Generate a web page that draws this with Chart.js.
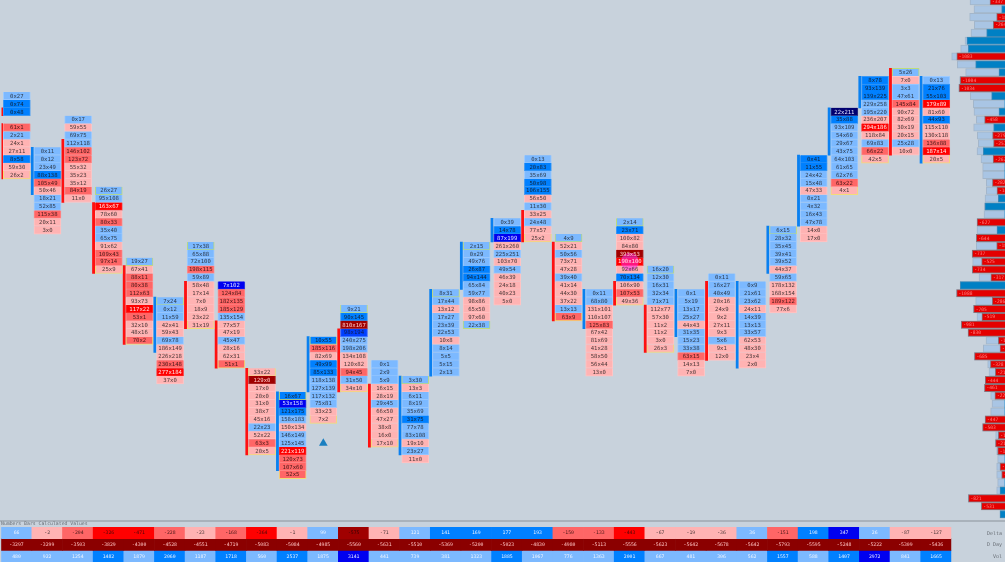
<!DOCTYPE html>
<html><head><meta charset="utf-8">
<script src="https://cdn.jsdelivr.net/npm/chart.js@4"></script>
<style>
html,body{margin:0;padding:0;background:#c8d2dc;width:1005px;height:562px;overflow:hidden}
canvas{position:absolute;display:block;filter:blur(.4px)}
#rule{position:absolute;left:0;top:520px;width:1005px;height:2px;background:#a9b2bb}
.t{position:absolute;font:5px "DejaVu Sans Mono",monospace;color:#6a7077;white-space:nowrap;line-height:6px;filter:blur(.3px)}
</style></head><body>
<canvas id="foot" width="1005" height="520" style="left:0;top:0;width:1005px;height:520px"></canvas>
<canvas id="prof" width="60" height="520" style="left:945px;top:0;width:60px;height:520px"></canvas>
<div id="rule"></div>
<canvas id="strip" width="1005" height="35" style="left:0;top:527px;width:1005px;height:35px"></canvas>
<div class="t" style="left:1px;top:521px;font-size:4.8px">Numbers Bars Calculated Values</div>
<div class="t" style="right:3px;top:530px">Delta</div>
<div class="t" style="right:3px;top:541px">D Day</div>
<div class="t" style="right:3px;top:553px">Vol</div>
<script>
// footprint: first row index of each candle, its "sell x buy" prints and a shade letter per print
const firstRow=[0,7,3,12,21,26,19,24,35,38,31,27,34,36,25,19,16,8,18,25,16,22,25,23,24,17,8,2,-2,-3,-2];
const prints=[
["0x27","0x74","0x48","","61x1","2x21","24x1","27x11","8x58","59x30","26x2"],
["0x11","0x12","23x49","88x138","105x49","50x46","18x21","52x85","115x38","20x11","3x0"],
["0x17","59x55","69x75","112x118","146x102","123x72","55x32","35x23","35x12","84x19","11x0"],
["26x27","95x108","163x67","78x60","80x33","35x40","65x75","91x62","109x43","97x14","25x9"],
["19x27","67x41","88x11","80x38","112x63","93x73","117x22","53x1","32x10","48x16","70x2"],
["7x24","0x12","11x59","42x41","59x43","69x78","186x149","226x218","230x148","277x184","37x0"],
["17x38","65x88","72x100","198x115","59x89","58x48","17x14","7x0","18x9","23x22","31x19"],
["7x102","124x84","182x135","185x129","135x154","77x57","47x19","45x47","28x16","62x31","51x1"],
["33x22","129x0","17x0","20x0","31x0","38x7","45x16","22x23","52x22","63x3","20x5"],
["16x67","53x158","121x175","158x183","150x134","146x149","125x145","221x119","120x73","107x60","52x5"],
["10x55","185x116","82x69","49x99","85x133","118x138","127x139","117x132","75x81","33x23","7x2"],
["9x21","90x145","810x167","98x194","240x275","198x206","134x108","120x82","94x45","31x50","34x10"],
["0x1","2x9","5x9","16x15","28x19","29x45","66x50","47x27","38x8","16x0","17x10"],
["3x30","13x3","6x11","8x19","35x69","31x75","77x78","83x108","19x10","23x27","11x0"],
["8x31","17x44","13x12","17x27","23x39","22x53","10x8","8x14","5x5","5x15","2x13"],
["2x15","0x29","49x76","26x87","94x144","65x84","59x77","98x86","65x50","97x60","22x38"],
["0x39","14x78","87x199","261x260","225x251","103x70","49x54","46x39","24x18","40x23","5x0"],
["0x13","20x83","35x69","50x98","106x155","56x50","11x30","33x25","24x48","77x57","25x2"],
["4x9","52x21","50x56","73x71","47x28","39x40","41x14","44x30","37x22","13x13","63x9"],
["0x11","68x80","131x101","110x107","125x83","67x42","81x69","41x28","58x50","56x44","13x0"],
["2x14","23x71","100x82","84x80","393x53","190x100","92x66","70x134","106x90","107x53","49x36"],
["16x20","12x30","16x31","32x34","71x71","112x77","57x30","11x2","11x2","3x0","26x3"],
["0x1","5x19","13x17","25x27","44x43","31x35","15x23","33x38","63x15","14x13","7x0"],
["0x11","16x27","40x49","20x16","24x9","9x2","27x11","9x3","5x6","9x1","12x0"],
["0x9","21x61","23x62","24x11","14x39","13x13","33x57","62x53","48x30","23x4","2x0"],
["6x15","28x32","35x45","39x41","39x52","44x37","59x65","178x132","168x154","189x122","77x6"],
["0x41","11x55","24x42","15x48","47x33","0x21","4x32","16x43","47x78","14x0","17x0"],
["22x211","35x88","93x109","54x60","29x67","43x75","64x103","61x65","62x76","63x22","4x1"],
["8x78","93x139","139x225","229x258","195x220","236x207","294x186","118x84","69x83","66x22","42x5"],
["5x26","7x0","3x3","47x61","145x84","90x72","82x69","30x19","20x15","25x28","10x0"],
["0x13","21x76","55x103","179x89","81x60","44x93","115x110","130x118","136x88","187x14","20x5"]];
const shades=["bBB mbllBll","bbbBmlbbmll","blbbmmlllml","bbrlmbblmml","blmmmlrmllm","bbbllbllmrl","bbbmbllllll","Dmmmbllbllm",
"ldlllllblml","BDBblbbrmmm","BmlBBbbbbll","bBdCbbllmbl","bbbllblllll","blbbbBbblbl","bblbbblbbbb","bbbBBbblllb","bBDlblbllll",
"bBbBBlblbll","blbllblllbm","bbllmllllll","bBlldrlBlml","bbbbbllllll","bbbblbbbmll","bbblllllbll","bbblbbbllll",
"bbbbblbllml","BBbblbbbbll","NBbbbbbbbml","BBBbblrlbml","blbbmllllbl","bBBrlBllmrl"];
const topEdge="...gggg.yggg.ggg..g.gg...g...g.".split("");
const bottomEdge="y..yy.yyyyyyy..g.yy.yy.....yy.y".split("");
// candle body stripes beside each column: first and last row, and direction
const bodyColumn=[0,0,1,2,3,4,5,6,7,8,9,10,11,12,13,14,15,16,17,18,19,20,21,22,23,24,25,26,27,28,29,30];
const bodyFrom=[2,4,7,6,14,22,26,24,29,35,38,31,30,37,36,25,19,16,15,19,25,24,27,25,24,24,17,8,2,-2,-3,-2];
const bodyTo=[2,10,12,13,22,31,32,29,34,45,47,37,37,44,45,35,24,18,18,28,29,26,32,30,33,34,22,16,7,1,7,8];
const bodyDir="RRBRRRBRRRBBRRBBBBRRBRRBRBBBBBRB".split("");
// signal markers
const signalColumn=[10];const signalRow=[44];
const absorbColumn=[20];const absorbRow=[21];
// value area profile on the right edge
const profileRows=[-12,-11,-10,-9,-8,-7,-6,-5,-4,-3,-2,-1,0,1,2,3,4,5,6,7,8,9,10,11,12,13,14,15,16,17,18,19,20,21,22,23,24,25,26,27,28,29,30,31,32,33,34,35,36,37,38,39,40,41,42,43,44,45,46,47,48,49,50,51,52,53];
const profileVol=[786,697,794,689,764,899,996,1198,1071,884,1020,1040,779,712,697,644,704,622,599,629,539,502,502,419,419,449,464,472,629,629,644,644,740,727,736,584,1010,1090,659,710,629,981,830,427,487,690,389,360,444,461,322,292,322,449,503,210,215,187,165,187,187,165,187,824,531,112];
const profileDelta=[-337,75,-187,-264,412,854,824,-1083,659,135,-1004,-1034,300,0,135,-458,255,-279,-257,487,-267,0,0,-282,-180,150,449,0,-627,180,-644,-187,-737,-525,-734,-317,1004,-1088,-286,-705,-519,-981,-830,-150,-112,-685,-328,-217,-444,-461,-227,0,0,-447,-503,-150,-213,-165,0,-112,-75,0,112,-821,-531,112];
// bottom table
const deltaValues=[66,-2,-204,-326,-471,-228,-23,-168,-364,-1,99,-575,-71,121,141,169,177,193,-150,-133,-443,-67,-19,-36,36,-151,198,347,26,-87,-127];
const deltaShade="blmrrmlmrlbdlbBBBBmmrlllbmBDbll".split("");
const dayValues=[-3297,-3299,-3503,-3829,-4300,-4528,-4551,-4719,-5083,-5084,-4985,-5560,-5631,-5510,-5369,-5200,-5023,-4830,-4980,-5113,-5556,-5623,-5642,-5678,-5642,-5793,-5595,-5248,-5222,-5309,-5436];
const volValues=[480,922,1254,1482,1879,2060,1187,1718,560,2537,1875,3141,441,739,381,1323,1885,1067,776,1363,2001,667,481,306,562,1557,588,1407,2972,841,1665];
const volShade="bbbBbBbBbBbDbbbbBbbbBbbbbBbBDbB".split("");

const fills={b:'#7cb9ff',B:'#0080ff',C:'#0040ff',D:'#0000f0',N:'#000070',l:'#ffb3b3',m:'#ff6666',r:'#ff0000',d:'#a00000',k:'#8b0000'};
const edges={b:'#9ccaff',B:'#3a98f5',C:'#3060ff',D:'#3040e0',N:'#303080',l:'#ffc4c4',m:'#ff8a8a',r:'#ff3030',d:'#b03030',k:'#8b0000'};
const inks={b:'#2c3a4c',B:'#102238',C:'#101c48',D:'#d8e0ff',N:'#e0e4ff',l:'#4a3838',m:'#481818',r:'#ffe4e4',d:'#ffc8c8',k:'#ffb0b0'};
const outline={g:'#bddc7a',y:'#f2dc78'};
const font='5.6px "DejaVu Sans Mono",monospace';

const cells=[];
prints.forEach((col,i)=>{
  col.forEach((txt,j)=>{
    if(!txt)return;
    const k=firstRow[i]+j;
    let oc=null;
    if(j===0&&topEdge[i]!=='.')oc=outline[topEdge[i]];
    if(j===col.length-1&&bottomEdge[i]!=='.')oc=outline[bottomEdge[i]];
    cells.push({x:i,y:[k-.5,k+.5],txt,sh:shades[i][j],oc});
  });
});
const bodies=bodyColumn.map((c,i)=>({x:c-.496,y:[bodyFrom[i]-.5,bodyTo[i]+.5],d:bodyDir[i]}));

const rowMin=-96/7.89,rowMax=(520-96)/7.89;
const hidden={display:false};
new Chart(document.getElementById('foot'),{
  type:'bar',
  data:{datasets:[
    {label:'absorb',type:'bubble',order:0,data:absorbColumn.map((c,i)=>({x:c,y:absorbRow[i],r:9})),backgroundColor:'rgba(255,40,230,.55)',borderWidth:0},
    {label:'signal',type:'scatter',order:0,data:signalColumn.map((c,i)=>({x:c,y:signalRow[i]})),pointStyle:'triangle',pointRadius:5,backgroundColor:'#1a7fc0',borderWidth:0},
    {label:'cells',order:1,grouped:false,data:cells,barThickness:27,
      backgroundColor:c=>fills[c.raw.sh],
      borderColor:c=>c.raw.oc||edges[c.raw.sh],borderWidth:1},
    {label:'bodies',order:2,grouped:false,data:bodies,barThickness:2.2,
      backgroundColor:c=>c.raw.d==='R'?'#ff1010':'#0a80f0',borderWidth:0}
  ]},
  options:{animation:false,responsive:false,devicePixelRatio:1,
    layout:{autoPadding:false,padding:{left:1.5,right:53.35,top:0,bottom:0}},
    plugins:{legend:hidden,tooltip:{enabled:false},title:hidden},
    scales:{
      x:{type:'linear',offset:false,min:-.5,max:30.5,display:false},
      y:{type:'linear',min:rowMin,max:rowMax,reverse:true,display:false}}
  },
  plugins:[{id:'cellText',afterDraw(ch){
    const c=ch.ctx,xs=ch.scales.x,ys=ch.scales.y;
    c.save();c.font=font;c.textAlign='center';c.textBaseline='middle';
    cells.forEach(p=>{c.fillStyle=inks[p.sh];c.fillText(p.txt,xs.getPixelForValue(p.x),ys.getPixelForValue((p.y[0]+p.y[1])/2)+.3);});
    c.restore();
  }}]
});

const deltaW=profileRows.map((r,i)=>({x:Math.abs(profileDelta[i]),y:r,v:profileDelta[i]}));
new Chart(document.getElementById('prof'),{
  type:'bar',
  data:{datasets:[
    {order:1,grouped:false,data:profileRows.map((r,i)=>({x:profileVol[i],y:r})),barThickness:7.4,backgroundColor:'#a9c5e4',borderColor:'#a3b6ca',borderWidth:1},
    {order:0,grouped:false,data:deltaW,barThickness:7.4,backgroundColor:c=>c.raw.v<0?'#e40000':'#0080c4',borderColor:c=>c.raw.v<0?'#8a7078':'#3a88b8',borderWidth:c=>c.raw.v?1:0}
  ]},
  options:{animation:false,responsive:false,devicePixelRatio:1,indexAxis:'y',
    layout:{autoPadding:false,padding:0},
    plugins:{legend:hidden,tooltip:{enabled:false}},
    scales:{
      x:{type:'linear',min:0,max:60/0.0445,reverse:true,display:false},
      y:{type:'linear',offset:false,min:rowMin,max:rowMax,reverse:true,display:false}}
  },
  plugins:[{id:'profText',afterDraw(ch){
    const c=ch.ctx,xs=ch.scales.x,ys=ch.scales.y;
    c.save();c.font='4.6px "DejaVu Sans Mono",monospace';c.textBaseline='middle';c.textAlign='left';c.fillStyle='#ff8080';
    deltaW.forEach(p=>{if(p.v<0)c.fillText(String(p.v),xs.getPixelForValue(p.x)+2,ys.getPixelForValue(p.y)+.3);});
    c.restore();
  }}]
});

const rowOf=(vals,lo,shadeArr)=>vals.map((v,i)=>({x:i,y:[lo,lo+1],v,sh:shadeArr?shadeArr[i]:'k'}));
const sDelta=rowOf(deltaValues,0,deltaShade),sDay=rowOf(dayValues,1,null),sVol=rowOf(volValues,2,volShade);
const stripInk={b:'#f0f6ff',B:'#e8f2ff',D:'#e8ecff',l:'#4a3838',m:'#481818',r:'#4a0808',d:'#300404',k:'#ffc0c0'};
new Chart(document.getElementById('strip'),{
  type:'bar',
  data:{datasets:[sDelta,sDay,sVol].map(d=>({data:d,grouped:false,barThickness:30.65,backgroundColor:c=>fills[c.raw.sh],borderWidth:0}))},
  options:{animation:false,responsive:false,devicePixelRatio:1,
    layout:{autoPadding:false,padding:{left:1.2,right:53.65,top:0,bottom:0}},
    plugins:{legend:hidden,tooltip:{enabled:false}},
    scales:{
      x:{type:'linear',offset:false,min:-.5,max:30.5,display:false},
      y:{type:'linear',min:0,max:3,reverse:true,display:false}}
  },
  plugins:[{id:'stripText',afterDraw(ch){
    const c=ch.ctx,xs=ch.scales.x,ys=ch.scales.y;
    c.save();c.font='4.8px "DejaVu Sans Mono",monospace';c.textAlign='center';c.textBaseline='middle';
    [sDelta,sDay,sVol].forEach(r=>r.forEach(p=>{c.fillStyle=stripInk[p.sh];c.fillText(String(p.v),xs.getPixelForValue(p.x),ys.getPixelForValue(p.y[0]+.5)+.3);}));
    c.restore();
  }}]
});
</script>
</body></html>
